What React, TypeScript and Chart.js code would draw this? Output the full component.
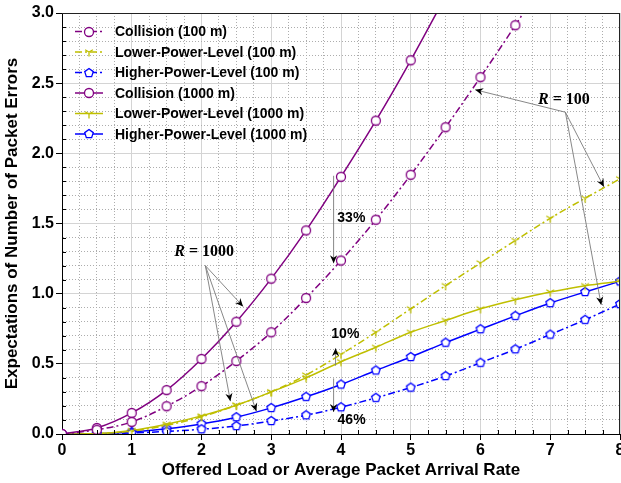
import React, { useEffect, useRef } from 'react';
import { Chart, registerables } from 'chart.js';

Chart.register(...registerables);

// ---------- data ----------
const xValues = [0, 0.5, 1, 1.5, 2, 2.5, 3, 3.5, 4, 4.5, 5, 5.5, 6, 6.5, 7, 7.5, 8];
const xTickLabels = ['0', '1', '2', '3', '4', '5', '6', '7', '8'];

const collision100 = [0, 0.03, 0.086, 0.198, 0.341, 0.52, 0.725, 0.969, 1.236, 1.527, 1.847, 2.186, 2.543, 2.913, 3.3, null, null];
const lower100 = [0, 0.003, 0.02, 0.062, 0.122, 0.205, 0.3, 0.42, 0.568, 0.725, 0.892, 1.057, 1.219, 1.379, 1.537, 1.68, 1.818];
const higher100 = [0, 0.001, 0.007, 0.018, 0.034, 0.057, 0.093, 0.134, 0.191, 0.258, 0.331, 0.413, 0.508, 0.604, 0.709, 0.814, 0.926];
const collision1000 = [0, 0.043, 0.15, 0.313, 0.535, 0.8, 1.107, 1.451, 1.833, 2.233, 2.663, 3.12, null, null, null, null, null];
const lower1000 = [0, 0.003, 0.025, 0.07, 0.129, 0.205, 0.3, 0.4, 0.515, 0.618, 0.725, 0.809, 0.892, 0.957, 1.012, 1.057, 1.088];
const higher1000 = [0, 0.002, 0.015, 0.038, 0.072, 0.12, 0.186, 0.265, 0.353, 0.453, 0.549, 0.651, 0.747, 0.842, 0.933, 1.012, 1.088];

const seriesLabels = [
  'Collision (100 m)',
  'Lower-Power-Level (100 m)',
  'Higher-Power-Level (100 m)',
  'Collision (1000 m)',
  'Lower-Power-Level (1000 m)',
  'Higher-Power-Level (1000 m)',
];

const xTitle = 'Offered Load or Average Packet Arrival Rate';
const yTitle = 'Expectations of Number of Packet Errors';

// annotation anchors (data coordinates)
const rLabels = [
  { italic: 'R', rest: ' = 1000', x: 1.609, y: 1.298 },
  { italic: 'R', rest: ' = 100', x: 6.825, y: 2.382 },
];
const rArrows = [
  { from: [2.055, 1.2], to: [2.596, 0.909] },
  { from: [2.055, 1.2], to: [2.414, 0.234] },
  { from: [2.055, 1.2], to: [2.787, 0.1625] },
  { from: [7.217, 2.293], to: [5.924, 2.453] },
  { from: [7.217, 2.293], to: [7.769, 1.761] },
  { from: [7.217, 2.293], to: [7.73, 0.921] },
];
const pctLabels = [
  { text: '33%', x: 3.947, y: 1.539 },
  { text: '10%', x: 3.861, y: 0.709 },
  { text: '46%', x: 3.951, y: 0.1 },
];
const pctArrows = [
  { from: [3.894, 1.84], to: [3.894, 1.217] },
  { from: [3.922, 0.487], to: [3.922, 0.611] },
  { from: [3.894, 0.396], to: [3.894, 0.157] },
];

// ---------- styles ----------
const PURPLE = '#800080';
const OLIVE = '#bfbf00';
const BLUE = '#0000ff';
const DASHDOT = [7, 3, 2, 3];
const SANS = "'Liberation Sans', Arial, sans-serif";
const SERIF = "'Liberation Serif', 'Times New Roman', serif";

function makeMarker(kind: string, color: string): HTMLCanvasElement {
  const c = document.createElement('canvas');
  c.width = 14;
  c.height = 14;
  const ctx = c.getContext('2d')!;
  const cx = 7, cy = 7;
  ctx.strokeStyle = color;
  ctx.lineWidth = 1.3;
  ctx.fillStyle = '#ffffff';
  if (kind === 'circle') {
    ctx.beginPath();
    ctx.arc(cx, cy, 4.5, 0, Math.PI * 2);
    ctx.fill();
    ctx.stroke();
  } else if (kind === 'pentagon') {
    ctx.beginPath();
    for (let k = 0; k < 5; k++) {
      const a = -Math.PI / 2 + (k * 2 * Math.PI) / 5;
      const px = cx + 4.5 * Math.cos(a);
      const py = cy + 4.5 * Math.sin(a);
      if (k === 0) ctx.moveTo(px, py);
      else ctx.lineTo(px, py);
    }
    ctx.closePath();
    ctx.fill();
    ctx.stroke();
  } else {
    ctx.beginPath();
    ctx.moveTo(cx, cy);
    ctx.lineTo(cx, cy + 4.5);
    ctx.moveTo(cx, cy);
    ctx.lineTo(cx - 3.9, cy - 2.25);
    ctx.moveTo(cx, cy);
    ctx.lineTo(cx + 3.9, cy - 2.25);
    ctx.stroke();
  }
  return c;
}

const isMult = (v: number, step: number) => Math.abs(v / step - Math.round(v / step)) < 1e-6;

function drawArrowHead(ctx: CanvasRenderingContext2D, fx: number, fy: number, tx: number, ty: number) {
  const ang = Math.atan2(ty - fy, tx - fx);
  const len = 8, half = 3.6, notch = 5.5;
  ctx.save();
  ctx.translate(tx, ty);
  ctx.rotate(ang);
  ctx.beginPath();
  ctx.moveTo(0, 0);
  ctx.lineTo(-len, -half);
  ctx.lineTo(-notch, 0);
  ctx.lineTo(-len, half);
  ctx.closePath();
  ctx.fillStyle = '#000';
  ctx.fill();
  ctx.restore();
}

export default function App() {
  const canvasRef = useRef<HTMLCanvasElement | null>(null);

  useEffect(() => {
    const canvas = canvasRef.current;
    if (!canvas) return;

    const mCircle = makeMarker('circle', PURPLE);
    const mTri = makeMarker('tri', OLIVE);
    const mPent = makeMarker('pentagon', BLUE);

    const series = [collision100, lower100, higher100, collision1000, lower1000, higher1000];
    const colors = [PURPLE, OLIVE, BLUE, PURPLE, OLIVE, BLUE];
    const markers = [mCircle, mTri, mPent, mCircle, mTri, mPent];
    const dashes = [DASHDOT, DASHDOT, DASHDOT, [], [], []];

    const datasets = series.map((s, i) => ({
      label: seriesLabels[i],
      data: xValues.map((x, j) => ({ x, y: s[j] })),
      borderColor: colors[i],
      backgroundColor: colors[i],
      borderWidth: 1.5,
      borderDash: dashes[i],
      pointStyle: markers[i],
      pointRadius: 4,
      cubicInterpolationMode: 'monotone' as const,
      fill: false,
    }));

    const overlay = {
      id: 'overlay',
      afterDraw(chart: any) {
        const { ctx, chartArea, scales } = chart;
        const xs = scales.x, ys = scales.y;
        const { left, right, top, bottom } = chartArea;
        ctx.save();
        // frame top/right
        ctx.strokeStyle = '#222';
        ctx.lineWidth = 1;
        ctx.beginPath();
        ctx.moveTo(left, top + 0.5);
        ctx.lineTo(right, top + 0.5);
        ctx.moveTo(right - 0.5, top);
        ctx.lineTo(right - 0.5, bottom);
        ctx.stroke();
        // minor ticks inside
        ctx.strokeStyle = '#000';
        ctx.beginPath();
        for (let k = 0; k <= 32; k++) {
          const v = k / 4;
          if (isMult(v, 1)) continue;
          const px = Math.round(xs.getPixelForValue(v)) + 0.5;
          ctx.moveTo(px, bottom);
          ctx.lineTo(px, bottom - 4);
        }
        for (let k = 0; k <= 30; k++) {
          const v = k / 10;
          if (isMult(v, 0.5)) continue;
          const py = Math.round(ys.getPixelForValue(v)) + 0.5;
          ctx.moveTo(left, py);
          ctx.lineTo(left + 4, py);
        }
        ctx.stroke();

        // x tick labels
        ctx.fillStyle = '#000';
        ctx.font = `bold 16px ${SANS}`;
        ctx.textAlign = 'center';
        ctx.textBaseline = 'alphabetic';
        xTickLabels.forEach((t) => {
          ctx.fillText(t, xs.getPixelForValue(Number(t)), bottom + 21);
        });

        // legend
        const rowY0 = 31.5, rowH = 20.5;
        seriesLabels.forEach((lab, i) => {
          const y = rowY0 + i * rowH;
          ctx.save();
          ctx.strokeStyle = colors[i];
          ctx.lineWidth = 1.5;
          ctx.setLineDash(dashes[i]);
          ctx.beginPath();
          ctx.moveTo(75, y);
          ctx.lineTo(103, y);
          ctx.stroke();
          ctx.restore();
          ctx.drawImage(markers[i], 89 - 7, Math.round(y) - 7);
          ctx.fillStyle = '#000';
          ctx.font = `bold 14px ${SANS}`;
          ctx.textBaseline = 'middle';
          ctx.textAlign = 'left';
          ctx.fillText(lab, 115, y + 1);
        });

        // arrows
        ctx.strokeStyle = '#7a7a7a';
        ctx.lineWidth = 0.9;
        [...rArrows, ...pctArrows].forEach((a) => {
          const fx = xs.getPixelForValue(a.from[0]);
          const fy = ys.getPixelForValue(a.from[1]);
          const tx = xs.getPixelForValue(a.to[0]);
          const ty = ys.getPixelForValue(a.to[1]);
          ctx.beginPath();
          ctx.moveTo(fx, fy);
          ctx.lineTo(tx, ty);
          ctx.stroke();
          drawArrowHead(ctx, fx, fy, tx, ty);
        });

        // R labels
        ctx.fillStyle = '#000';
        ctx.textBaseline = 'middle';
        ctx.textAlign = 'left';
        rLabels.forEach((r) => {
          const px = xs.getPixelForValue(r.x);
          const py = ys.getPixelForValue(r.y);
          ctx.font = `italic bold 16px ${SERIF}`;
          ctx.fillText(r.italic, px, py);
          const w = ctx.measureText(r.italic).width;
          ctx.font = `bold 16px ${SERIF}`;
          ctx.fillText(r.rest, px + w, py);
        });
        // pct labels
        ctx.font = `bold 14px ${SANS}`;
        pctLabels.forEach((p) => {
          ctx.fillText(p.text, xs.getPixelForValue(p.x), ys.getPixelForValue(p.y));
        });
        ctx.restore();
      },
    };

    const zeroPad = (s: any) => {
      s.paddingLeft = 0;
      s.paddingRight = 0;
      s.paddingTop = 0;
      s.paddingBottom = 0;
    };

    const chart = new Chart(canvas, {
      type: 'line',
      data: { datasets: datasets as any },
      options: {
        animation: false,
        responsive: false,
        maintainAspectRatio: false,
        layout: { autoPadding: false, padding: { top: 13, right: 1, left: 0, bottom: 0 } },
        plugins: { legend: { display: false }, tooltip: { enabled: false } },
        scales: {
          x: {
            type: 'linear',
            min: 0,
            max: 8,
            ticks: {
              stepSize: 0.25,
              autoSkip: false,
              maxRotation: 0,
              color: '#000',
              padding: 0,
              font: { family: SANS, size: 16, weight: 'bold' },
              callback: () => '',
            },
            grid: {
              color: (c: any) => (c.tick && isMult(c.tick.value, 1) ? '#d4d4d4' : '#adadad'),
              lineWidth: 1,
              tickColor: (c: any) => (c.tick && isMult(c.tick.value, 1) ? '#000' : 'rgba(0,0,0,0)'),
              tickLength: 6,
            },
            border: {
              display: true,
              color: '#000',
              width: 1,
              dash: (c: any) => (c.tick && !isMult(c.tick.value, 1) ? [1, 2] : []),
            } as any,
            title: {
              display: true,
              text: xTitle,
              color: '#000',
              font: { family: SANS, size: 17, weight: 'bold', lineHeight: 1 },
              padding: { top: 0, bottom: 4 },
            },
            afterFit: (s: any) => {
              s.height = 49;
              zeroPad(s);
            },
          },
          y: {
            type: 'linear',
            min: 0,
            max: 3,
            ticks: {
              stepSize: 0.1,
              autoSkip: false,
              color: '#000',
              padding: 2,
              font: { family: SANS, size: 16, weight: 'bold' },
              callback: (v: any) => (isMult(Number(v), 0.5) ? Number(v).toFixed(1) : ''),
            },
            grid: {
              color: (c: any) => (c.tick && isMult(c.tick.value, 0.5) ? '#d4d4d4' : '#adadad'),
              lineWidth: 1,
              tickColor: (c: any) => (c.tick && isMult(c.tick.value, 0.5) ? '#000' : 'rgba(0,0,0,0)'),
              tickLength: 6,
            },
            border: {
              display: true,
              color: '#000',
              width: 1,
              dash: (c: any) => (c.tick && !isMult(c.tick.value, 0.5) ? [1, 2] : []),
            } as any,
            title: {
              display: true,
              text: yTitle,
              color: '#000',
              font: { family: SANS, size: 17, weight: 'bold', lineHeight: 1 },
              padding: { top: 4, bottom: 0 },
            },
            afterFit: (s: any) => {
              s.width = 62;
              zeroPad(s);
            },
          },
        },
      } as any,
      plugins: [overlay],
    });

    return () => chart.destroy();
  }, []);

  return (
    <div style={{ position: 'absolute', left: 0, top: 0, width: 621, height: 483, background: '#fff' }}>
      <canvas ref={canvasRef} width={621} height={483} style={{ display: 'block' }} />
    </div>
  );
}
